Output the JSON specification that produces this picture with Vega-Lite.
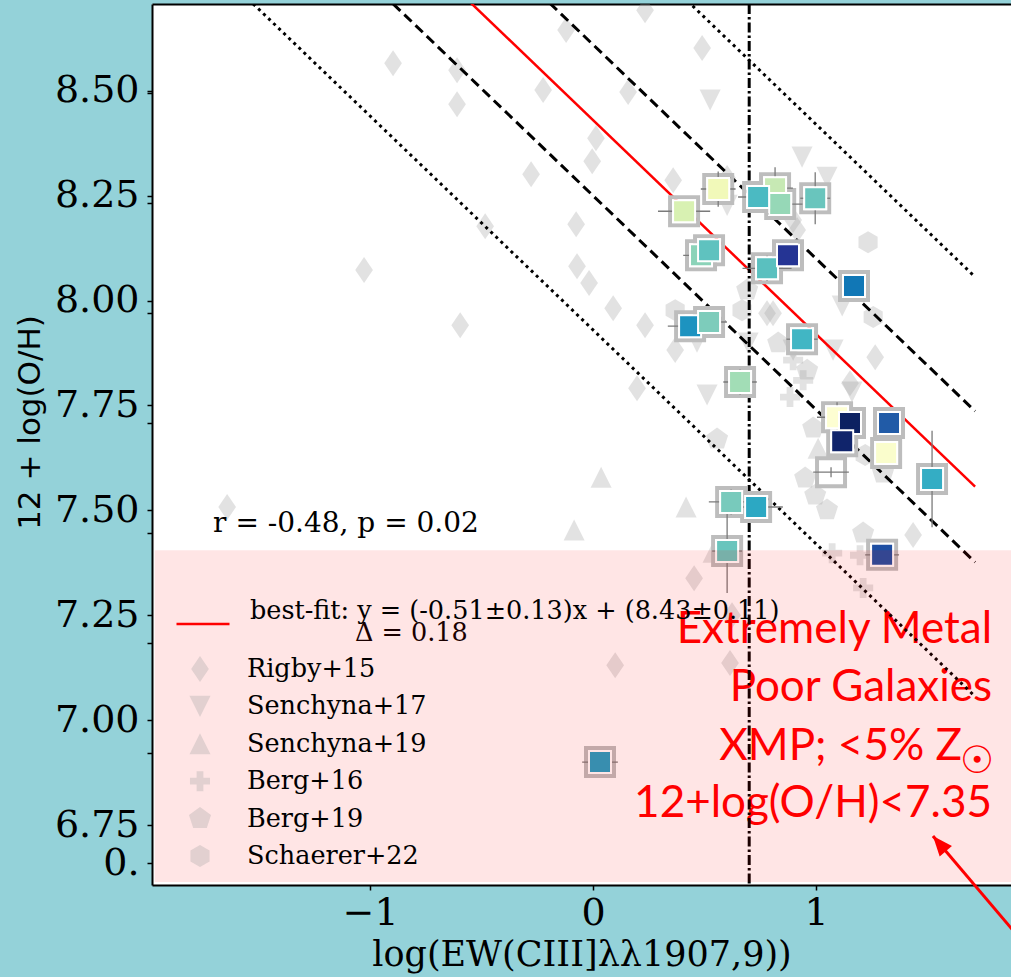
{
  "$schema": "https://vega.github.io/schema/vega-lite/v6.json",
  "width": 859,
  "height": 881,
  "autosize": {"type": "none"},
  "padding": {"left": 152, "top": 4, "right": 0, "bottom": 92},
  "background": "#94d2d9",
  "config": {"view": {"stroke": null, "fill": "white"}, "font": "DejaVu Serif"},
  "datasets": {
    "cloud": [
      {"sample": "Rigby+15", "log_ew": 0.233, "oh": 8.692},
      {"sample": "Rigby+15", "log_ew": 0.489, "oh": 8.602},
      {"sample": "Rigby+15", "log_ew": 0.157, "oh": 8.497},
      {"sample": "Rigby+15", "log_ew": -0.121, "oh": 8.645},
      {"sample": "Rigby+15", "log_ew": -0.224, "oh": 8.502},
      {"sample": "Rigby+15", "log_ew": -0.897, "oh": 8.566},
      {"sample": "Rigby+15", "log_ew": -0.61, "oh": 8.549},
      {"sample": "Rigby+15", "log_ew": -0.61, "oh": 8.468},
      {"sample": "Rigby+15", "log_ew": 0.013, "oh": 8.387},
      {"sample": "Rigby+15", "log_ew": -0.004, "oh": 8.332},
      {"sample": "Rigby+15", "log_ew": -0.278, "oh": 8.301},
      {"sample": "Rigby+15", "log_ew": -0.484, "oh": 8.177},
      {"sample": "Rigby+15", "log_ew": -0.076, "oh": 8.182},
      {"sample": "Rigby+15", "log_ew": -0.072, "oh": 8.082},
      {"sample": "Rigby+15", "log_ew": -0.018, "oh": 8.042},
      {"sample": "Rigby+15", "log_ew": -1.027, "oh": 8.073},
      {"sample": "Rigby+15", "log_ew": -0.596, "oh": 7.941},
      {"sample": "Rigby+15", "log_ew": -1.641, "oh": 7.508},
      {"sample": "Rigby+15", "log_ew": 0.359, "oh": 8.287},
      {"sample": "Rigby+15", "log_ew": 0.601, "oh": 8.292},
      {"sample": "Rigby+15", "log_ew": 0.897, "oh": 8.192},
      {"sample": "Rigby+15", "log_ew": 0.915, "oh": 8.168},
      {"sample": "Rigby+15", "log_ew": 0.09, "oh": 7.982},
      {"sample": "Rigby+15", "log_ew": 0.233, "oh": 7.941},
      {"sample": "Rigby+15", "log_ew": 0.368, "oh": 7.882},
      {"sample": "Rigby+15", "log_ew": 0.197, "oh": 7.791},
      {"sample": "Rigby+15", "log_ew": 0.78, "oh": 7.97},
      {"sample": "Rigby+15", "log_ew": 0.807, "oh": 7.97},
      {"sample": "Rigby+15", "log_ew": 1.265, "oh": 7.865},
      {"sample": "Rigby+15", "log_ew": 1.152, "oh": 7.803},
      {"sample": "Rigby+15", "log_ew": 1.435, "oh": 7.441},
      {"sample": "Rigby+15", "log_ew": 0.453, "oh": 7.338},
      {"sample": "Rigby+15", "log_ew": 0.099, "oh": 7.131},
      {"sample": "Rigby+15", "log_ew": 0.614, "oh": 7.136},
      {"sample": "Rigby+15", "log_ew": 0.623, "oh": 7.25},
      {"sample": "Senchyna+17", "log_ew": 0.525, "oh": 8.478},
      {"sample": "Senchyna+17", "log_ew": 0.937, "oh": 8.342},
      {"sample": "Senchyna+17", "log_ew": 1.049, "oh": 8.294},
      {"sample": "Senchyna+17", "log_ew": 0.601, "oh": 8.227},
      {"sample": "Senchyna+17", "log_ew": 1.117, "oh": 7.987},
      {"sample": "Senchyna+17", "log_ew": 1.076, "oh": 7.882},
      {"sample": "Senchyna+17", "log_ew": 0.695, "oh": 7.899},
      {"sample": "Senchyna+17", "log_ew": 0.466, "oh": 7.901},
      {"sample": "Senchyna+17", "log_ew": 0.511, "oh": 7.775},
      {"sample": "Senchyna+17", "log_ew": 1.161, "oh": 7.782},
      {"sample": "Senchyna+17", "log_ew": 0.897, "oh": 7.882},
      {"sample": "Senchyna+19", "log_ew": 0.036, "oh": 7.579},
      {"sample": "Senchyna+19", "log_ew": 0.417, "oh": 7.508},
      {"sample": "Senchyna+19", "log_ew": -0.085, "oh": 7.453},
      {"sample": "Senchyna+19", "log_ew": 0.538, "oh": 7.4},
      {"sample": "Senchyna+19", "log_ew": 1.009, "oh": 7.648},
      {"sample": "Berg+16", "log_ew": 0.942, "oh": 7.81},
      {"sample": "Berg+16", "log_ew": 0.883, "oh": 7.77},
      {"sample": "Berg+16", "log_ew": 0.897, "oh": 7.858},
      {"sample": "Berg+16", "log_ew": 1.072, "oh": 7.398},
      {"sample": "Berg+16", "log_ew": 1.197, "oh": 7.393},
      {"sample": "Berg+16", "log_ew": 1.211, "oh": 7.315},
      {"sample": "Berg+19", "log_ew": 0.691, "oh": 8.025},
      {"sample": "Berg+19", "log_ew": 0.83, "oh": 7.899},
      {"sample": "Berg+19", "log_ew": 0.96, "oh": 7.834},
      {"sample": "Berg+19", "log_ew": 0.556, "oh": 7.67},
      {"sample": "Berg+19", "log_ew": 0.951, "oh": 7.577},
      {"sample": "Berg+19", "log_ew": 0.996, "oh": 7.536},
      {"sample": "Berg+19", "log_ew": 1.049, "oh": 7.501},
      {"sample": "Berg+19", "log_ew": 1.211, "oh": 7.446},
      {"sample": "Berg+19", "log_ew": 1.3, "oh": 7.589},
      {"sample": "Berg+19", "log_ew": 0.987, "oh": 7.696},
      {"sample": "Schaerer+22", "log_ew": 1.233, "oh": 8.139},
      {"sample": "Schaerer+22", "log_ew": 1.256, "oh": 7.961},
      {"sample": "Schaerer+22", "log_ew": 0.668, "oh": 7.977},
      {"sample": "Schaerer+22", "log_ew": 0.368, "oh": 7.977},
      {"sample": "Schaerer+22", "log_ew": 1.22, "oh": 7.632}
    ],
    "galaxies": [
      {"log_ew": 0.408, "oh": 8.213, "ew_err": 0.117, "oh_err": 0.02, "cval": 0.19},
      {"log_ew": 0.561, "oh": 8.266, "ew_err": 0.078, "oh_err": 0.042, "cval": 0.1},
      {"log_ew": 0.816, "oh": 8.268, "ew_err": 0.08, "oh_err": 0.05, "cval": 0.25},
      {"log_ew": 0.839, "oh": 8.23, "ew_err": 0.1, "oh_err": 0.02, "cval": 0.33},
      {"log_ew": 0.74, "oh": 8.247, "ew_err": 0.09, "oh_err": 0.02, "cval": 0.48},
      {"log_ew": 0.996, "oh": 8.244, "ew_err": 0.067, "oh_err": 0.062, "cval": 0.42},
      {"log_ew": 0.484, "oh": 8.108, "ew_err": 0.08, "oh_err": 0.02, "cval": 0.35},
      {"log_ew": 0.52, "oh": 8.12, "ew_err": 0.03, "oh_err": 0.02, "cval": 0.44},
      {"log_ew": 0.78, "oh": 8.077, "ew_err": 0.11, "oh_err": 0.03, "cval": 0.45},
      {"log_ew": 0.874, "oh": 8.108, "ew_err": 0.03, "oh_err": 0.02, "cval": 0.875},
      {"log_ew": 1.17, "oh": 8.035, "ew_err": 0.03, "oh_err": 0.02, "cval": 0.69},
      {"log_ew": 0.435, "oh": 7.939, "ew_err": 0.1, "oh_err": 0.02, "cval": 0.62},
      {"log_ew": 0.52, "oh": 7.949, "ew_err": 0.08, "oh_err": 0.02, "cval": 0.38},
      {"log_ew": 0.937, "oh": 7.908, "ew_err": 0.07, "oh_err": 0.02, "cval": 0.5},
      {"log_ew": 0.659, "oh": 7.806, "ew_err": 0.075, "oh_err": 0.03, "cval": 0.31},
      {"log_ew": 1.094, "oh": 7.722, "ew_err": 0.09, "oh_err": 0.036, "cval": 0.02},
      {"log_ew": 1.152, "oh": 7.708, "ew_err": 0.03, "oh_err": 0.02, "cval": 0.98},
      {"log_ew": 1.117, "oh": 7.665, "ew_err": 0.03, "oh_err": 0.02, "cval": 0.96},
      {"log_ew": 1.327, "oh": 7.708, "ew_err": 0.03, "oh_err": 0.02, "cval": 0.76},
      {"log_ew": 1.314, "oh": 7.637, "ew_err": 0.03, "oh_err": 0.02, "cval": 0.04},
      {"log_ew": 1.067, "oh": 7.591, "ew_err": 0.08, "oh_err": 0.012, "cval": null},
      {"log_ew": 1.52, "oh": 7.575, "ew_err": 0.03, "oh_err": 0.115, "cval": 0.53},
      {"log_ew": 0.619, "oh": 7.52, "ew_err": 0.1, "oh_err": 0.03, "cval": 0.39},
      {"log_ew": 0.731, "oh": 7.508, "ew_err": 0.12, "oh_err": 0.02, "cval": 0.55},
      {"log_ew": 0.601, "oh": 7.403, "ew_err": 0.067, "oh_err": 0.1, "cval": 0.42},
      {"log_ew": 1.296, "oh": 7.394, "ew_err": 0.076, "oh_err": 0.02, "cval": 0.8},
      {"log_ew": 0.031, "oh": 6.9, "ew_err": 0.08, "oh_err": 0.02, "cval": 0.58}
    ],
    "fits": [
      {"line": "best-fit", "log_ew": -2.0, "oh": 9.45},
      {"line": "best-fit", "log_ew": 1.713, "oh": 7.5564},
      {"line": "plus_delta", "log_ew": -2.0, "oh": 9.63},
      {"line": "plus_delta", "log_ew": 1.713, "oh": 7.7364},
      {"line": "minus_delta", "log_ew": -2.0, "oh": 9.27},
      {"line": "minus_delta", "log_ew": 1.713, "oh": 7.3764},
      {"line": "plus_half", "log_ew": -2.0, "oh": 9.95},
      {"line": "plus_half", "log_ew": 1.713, "oh": 8.0564},
      {"line": "minus_half", "log_ew": -2.0, "oh": 8.95},
      {"line": "minus_half", "log_ew": 1.713, "oh": 7.0564}
    ]
  },
  "resolve": {"axis": {"x": "independent"}},
  "layer": [
    {
      "data": {"name": "cloud"},
      "mark": {"type": "point", "filled": true, "fill": "#a0a0a0", "opacity": 0.3, "size": 676, "strokeWidth": 0, "clip": true},
      "encoding": {
        "x": {
          "field": "log_ew", "type": "quantitative",
          "scale": {"domain": [-1.978, 1.874], "nice": false, "zero": false},
          "axis": {
            "values": [-1, 0, 1],
            "labelExpr": "datum.value < 0 ? '\u2212' + format(abs(datum.value), 'd') : format(datum.value, 'd')",
            "title": "log(EW(CIII]\u03bb\u03bb1907,9))",
            "titleFont": "DejaVu Serif", "titleFontSize": 35, "titleFontWeight": "normal", "titleColor": "black",
            "titlePadding": 5,
            "labelFont": "DejaVu Serif", "labelFontSize": 38, "labelColor": "black", "labelPadding": 4,
            "labelFlush": false, "labelOverlap": false,
            "tickColor": "black", "tickSize": 5, "tickWidth": 1.5,
            "domainColor": "black", "domainWidth": 2, "grid": false
          }
        },
        "y": {
          "field": "oh", "type": "quantitative", "title": "12 + log(O/H)",
          "scale": {"domain": [6.607, 8.707], "nice": false, "zero": false},
          "axis": {
            "values": [6.6593, 6.75, 6.9215, 7.0, 7.1838, 7.25, 7.446, 7.5, 7.7082, 7.75, 7.9704, 8.0, 8.2326, 8.25, 8.4948, 8.5],
            "labelExpr": "abs(datum.value * 4 - round(datum.value * 4)) < 0.001 ? format(datum.value, '.2f') : (datum.value < 6.7 ? '0.' : '')",
            "titleFont": "DejaVu Sans", "titleFontSize": 31, "titleFontWeight": "normal", "titleColor": "black",
            "titlePadding": 8, "titleY": 418,
            "labelFont": "DejaVu Serif", "labelFontSize": 38, "labelColor": "black", "labelPadding": 8,
            "labelOverlap": false, "labelFlush": false,
            "tickColor": "black", "tickSize": 5, "tickWidth": 1.5,
            "domainColor": "black", "domainWidth": 2, "grid": false
          }
        },
        "shape": {
          "field": "sample", "type": "nominal",
          "scale": {
            "domain": ["Rigby+15", "Senchyna+17", "Senchyna+19", "Berg+16", "Berg+19", "Schaerer+22"],
            "range": [
              "M0,-1L0.68,0L0,1L-0.68,0Z",
              "M-0.81,-0.81L0.81,-0.81L0,0.81Z",
              "M0,-0.81L0.81,0.81L-0.81,0.81Z",
              "M-0.26,-0.77L0.26,-0.77L0.26,-0.26L0.77,-0.26L0.77,0.26L0.26,0.26L0.26,0.77L-0.26,0.77L-0.26,0.26L-0.77,0.26L-0.77,-0.26L-0.26,-0.26Z",
              "M0,-0.89L0.846,-0.275L0.523,0.72L-0.523,0.72L-0.846,-0.275Z",
              "M0,-0.85L0.736,-0.425L0.736,0.425L0,0.85L-0.736,0.425L-0.736,-0.425Z"
            ]
          },
          "legend": {
            "orient": "none", "legendX": 35, "legendY": 652, "title": null, "padding": 0,
            "labelFont": "DejaVu Serif", "labelFontSize": 25.5, "labelColor": "black", "labelOffset": 34, "labelLimit": 0,
            "rowPadding": 10.4, "symbolSize": 676, "symbolStrokeWidth": 0,
            "symbolFillColor": "#a0a0a0", "symbolOpacity": 0.3
          }
        }
      }
    },
    {
      "data": {"values": [{"note": ["Extremely Metal", "Poor Galaxies"]}]},
      "mark": {"type": "text", "align": "right", "baseline": "alphabetic", "font": "Lato", "fontSize": 44, "color": "red", "lineHeight": 58},
      "encoding": {
        "x": {"datum": 1.789, "type": "quantitative", "axis": null},
        "y": {"datum": 7.1838, "type": "quantitative"},
        "text": {"field": "note"}
      }
    },
    {
      "data": {"values": [{"note": "XMP; <5% Z"}]},
      "mark": {"type": "text", "align": "right", "baseline": "alphabetic", "font": "Lato", "fontSize": 44, "color": "red"},
      "encoding": {
        "x": {"datum": 1.654, "type": "quantitative", "axis": null},
        "y": {"datum": 6.9049, "type": "quantitative"},
        "text": {"field": "note"}
      }
    },
    {
      "data": {"values": [{"note": "\u2609"}]},
      "mark": {"type": "text", "align": "center", "baseline": "middle", "font": "DejaVu Sans", "fontSize": 38, "fontWeight": "bold", "color": "red"},
      "encoding": {
        "x": {"datum": 1.722, "type": "quantitative", "axis": null},
        "y": {"datum": 6.9, "type": "quantitative"},
        "text": {"field": "note"}
      }
    },
    {
      "data": {"values": [{"note": "12+log(O/H)<7.35"}]},
      "mark": {"type": "text", "align": "right", "baseline": "alphabetic", "font": "Lato", "fontSize": 44, "color": "red"},
      "encoding": {
        "x": {"datum": 1.789, "type": "quantitative", "axis": null},
        "y": {"datum": 6.769, "type": "quantitative"},
        "text": {"field": "note"}
      }
    },
    {
      "data": {"name": "fits"},
      "transform": [{"filter": "datum.line === 'plus_half' || datum.line === 'minus_half'"}],
      "mark": {"type": "line", "stroke": "black", "strokeWidth": 3, "strokeDash": [3, 4], "clip": true},
      "encoding": {
        "x": {"field": "log_ew", "type": "quantitative", "axis": null},
        "y": {"field": "oh", "type": "quantitative", "title": "12 + log(O/H)"},
        "detail": {"field": "line"}
      }
    },
    {
      "data": {"name": "fits"},
      "transform": [{"filter": "datum.line === 'plus_delta' || datum.line === 'minus_delta'"}],
      "mark": {"type": "line", "stroke": "black", "strokeWidth": 3, "strokeDash": [10, 5.5], "clip": true},
      "encoding": {
        "x": {"field": "log_ew", "type": "quantitative", "axis": null},
        "y": {"field": "oh", "type": "quantitative", "title": "12 + log(O/H)"},
        "detail": {"field": "line"}
      }
    },
    {
      "data": {"name": "fits"},
      "transform": [{"filter": "datum.line === 'best-fit'"}],
      "mark": {"type": "line", "strokeWidth": 2.5, "clip": true},
      "encoding": {
        "x": {"field": "log_ew", "type": "quantitative", "axis": null},
        "y": {"field": "oh", "type": "quantitative", "title": "12 + log(O/H)"},
        "stroke": {
          "field": "line", "type": "nominal",
          "scale": {"domain": ["best-fit"], "range": ["red"]},
          "legend": {
            "orient": "none", "legendX": 23, "legendY": 592, "title": null, "padding": 0,
            "symbolType": "stroke", "symbolSize": 2809, "symbolStrokeWidth": 2.5,
            "labelFont": "DejaVu Serif", "labelFontSize": 25.5, "labelColor": "black", "labelOffset": 19, "labelLimit": 0,
            "labelBaseline": "bottom",
            "labelExpr": "'best-fit: y = (-0.51\u00b10.13)x + (8.43\u00b10.11)'"
          }
        }
      }
    },
    {
      "data": {"values": [{"note": "\u0394 = 0.18"}]},
      "mark": {"type": "text", "align": "left", "baseline": "middle", "font": "DejaVu Serif", "fontSize": 25.5, "color": "black"},
      "encoding": {
        "x": {"datum": -1.068, "type": "quantitative", "axis": null},
        "y": {"datum": 7.2076, "type": "quantitative"},
        "text": {"field": "note"}
      }
    },
    {
      "data": {"values": [{"threshold": 0.7}]},
      "mark": {"type": "rule", "stroke": "black", "strokeWidth": 3, "strokeDash": [10, 3, 2.5, 3]},
      "encoding": {
        "x": {
          "field": "threshold", "type": "quantitative",
          "axis": {"orient": "top", "labels": false, "ticks": false, "title": null, "domainColor": "black", "domainWidth": 2, "grid": false}
        }
      }
    },
    {
      "data": {"name": "galaxies"},
      "mark": {"type": "point", "shape": "square", "filled": false, "stroke": "#bdbdbd", "strokeWidth": 4, "size": 784, "opacity": 1},
      "encoding": {
        "x": {"field": "log_ew", "type": "quantitative", "axis": null},
        "y": {"field": "oh", "type": "quantitative", "title": "12 + log(O/H)"}
      }
    },
    {
      "data": {"name": "galaxies"},
      "mark": {"type": "errorbar", "color": "#7a7a7a", "thickness": 1.3},
      "encoding": {
        "x": {"field": "log_ew", "type": "quantitative", "axis": null},
        "xError": {"field": "ew_err"},
        "y": {"field": "oh", "type": "quantitative", "title": "12 + log(O/H)"}
      }
    },
    {
      "data": {"name": "galaxies"},
      "mark": {"type": "errorbar", "color": "#7a7a7a", "thickness": 1.3},
      "encoding": {
        "y": {"field": "oh", "type": "quantitative", "title": "12 + log(O/H)"},
        "yError": {"field": "oh_err"},
        "x": {"field": "log_ew", "type": "quantitative", "axis": null}
      }
    },
    {
      "data": {"name": "galaxies"},
      "transform": [{"filter": "isValid(datum.cval)"}],
      "mark": {"type": "point", "shape": "square", "filled": true, "stroke": "white", "strokeWidth": 2, "size": 484, "opacity": 1},
      "encoding": {
        "x": {"field": "log_ew", "type": "quantitative", "axis": null},
        "y": {"field": "oh", "type": "quantitative", "title": "12 + log(O/H)"},
        "fill": {
          "field": "cval", "type": "quantitative", "legend": null,
          "scale": {
            "domain": [0, 0.125, 0.25, 0.375, 0.5, 0.625, 0.75, 0.875, 1],
            "range": ["#ffffd9", "#edf8b1", "#c7e9b4", "#7fcdbb", "#41b6c4", "#1d91c0", "#225ea8", "#253494", "#081d58"]
          }
        }
      }
    },
    {
      "data": {"values": [{"region": "XMP"}]},
      "mark": {"type": "rect", "fill": "red", "opacity": 0.1},
      "encoding": {
        "x": {"datum": -1.966, "type": "quantitative", "axis": null},
        "x2": {"datum": 1.874},
        "y": {"datum": 7.405, "type": "quantitative"},
        "y2": {"datum": 6.614}
      }
    },
    {
      "data": {"values": [{"note": "r = -0.48, p = 0.02"}]},
      "mark": {"type": "text", "align": "left", "baseline": "middle", "font": "DejaVu Serif", "fontSize": 28, "color": "black"},
      "encoding": {
        "x": {"datum": -1.704, "type": "quantitative", "axis": null},
        "y": {"datum": 7.467, "type": "quantitative"},
        "text": {"field": "note"}
      }
    },
    {
      "data": {"values": [{"target": "XMP"}]},
      "mark": {"type": "rule", "stroke": "red", "strokeWidth": 3, "clip": false},
      "encoding": {
        "x": {"datum": 1.524, "type": "quantitative", "axis": null},
        "y": {"datum": 6.724, "type": "quantitative"},
        "x2": {"datum": 2.004},
        "y2": {"datum": 6.423}
      }
    },
    {
      "data": {"values": [{"target": "XMP"}]},
      "mark": {"type": "point", "shape": "M0,0L-1.6,4L1.6,4Z", "filled": true, "fill": "red", "opacity": 1, "size": 100, "angle": 320, "strokeWidth": 0},
      "encoding": {
        "x": {"datum": 1.524, "type": "quantitative", "axis": null},
        "y": {"datum": 6.724, "type": "quantitative"}
      }
    }
  ]
}
